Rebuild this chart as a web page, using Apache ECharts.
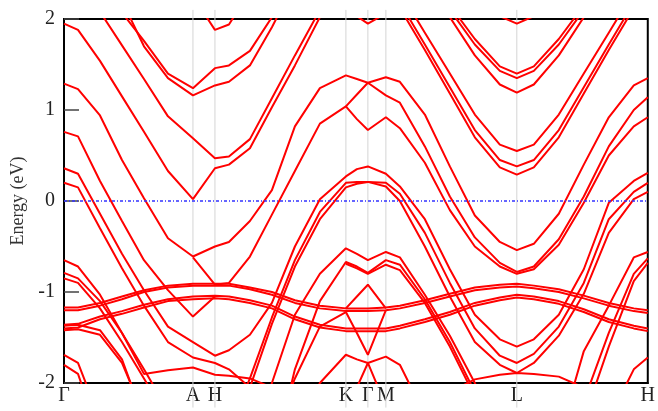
<!DOCTYPE html>
<html>
<head>
<meta charset="utf-8">
<script src="https://cdn.jsdelivr.net/npm/echarts@6/dist/echarts.min.js"></script>
<style>
html, body { margin: 0; padding: 0; background: #fff; }
#chart { width: 658px; height: 411px; }
</style>
</head>
<body>
<div id="chart"></div>
<script>
const _ = null;

// k-path positions (sample points along Γ-A-H-K-Γ-M-L-H)
const kGrid = [0, 14, 36, 58, 80, 104, 129, 151, 165, 186, 208, 231, 256, 282, 293, 304, 322, 336, 361, 386, 411, 436, 453, 470, 495, 520, 545, 570, 584];
const kTicks = [0, 129, 151, 282, 304, 322, 453, 584];
const kLabels = ['Γ', 'A', 'H', 'K', 'Γ', 'M', 'L', 'H'];
const kLines = [129, 151, 282, 304, 322, 453];

// band energies (eV) at each kGrid point
const band01 = [1.95, 1.88, 1.54, 1.15, 0.76, 0.33, 0.02, 0.36, 0.40, 0.58, 1.03, 1.49, 2.02, 2.6, _, _, _, _, _, _, _, _, _, _, _, _, _, _, _];
const band02 = [_, 2.45, 2.08, 1.71, 1.34, 0.93, 0.69, 0.47, 0.49, 0.68, 1.13, 1.6, 2.1, _, _, _, _, _, _, _, _, _, _, _, _, _, _, _, _];
const band03 = [_, _, 2.45, 2.07, 1.76, 1.40, 1.24, 1.46, 1.49, 1.65, 2.02, _, _, _, _, _, _, _, _, _, _, _, _, _, _, _, _, _, _];
const band04 = [_, _, 2.6, 2.2, 1.70, 1.35, 1.16, 1.27, 1.31, 1.49, 1.91, 2.4, _, _, _, _, _, _, _, _, _, _, _, _, _, _, _, _, _];
const band05 = [_, _, _, _, _, 2.6, 2.25, 1.88, 1.94, 2.3, _, _, _, _, _, _, _, _, _, _, _, _, _, _, _, _, _, _, _];
const band06 = [_, _, _, _, _, _, _, _, _, _, _, _, 2.5, 2.3, 2.03, 1.95, 2.06, 2.3, _, _, _, _, _, _, _, _, _, _, _];
const band07 = [_, _, _, _, _, _, _, _, _, _, _, _, _, _, _, _, _, _, _, _, 2.3, 2.03, 1.95, 2.03, 2.3, _, _, _, _];
const band08 = [1.29, 1.23, 0.94, 0.45, 0.03, -0.41, -0.61, -0.50, -0.45, -0.22, 0.12, 0.82, 1.24, 1.38, 1.34, 1.30, 1.36, 1.31, 0.95, 0.38, -0.16, -0.45, -0.54, -0.47, -0.14, 0.4, 0.92, 1.27, 1.35];
const band09 = [_, _, _, _, _, _, -0.62, -0.92, -0.9, -0.61, -0.15, 0.33, 0.85, 1.04, 1.17, 1.30, 1.16, 1.08, 0.6, 0.05, -0.4, -0.68, -0.78, -0.72, -0.42, 0.05, 0.6, 1.0, 1.14];
const band10 = [_, _, _, _, _, _, _, _, _, _, _, _, _, 1.04, 0.9, 0.78, 0.92, 0.8, 0.42, -0.1, -0.5, -0.72, -0.8, -0.75, -0.48, -0.02, 0.5, 0.82, 0.92];
const band11 = [0.76, 0.71, 0.22, -0.22, -0.65, -0.98, -1.27, -1.05, _, _, _, _, _, _, _, _, _, _, _, _, _, _, _, _, _, _, _, _, _];
const band12 = [0.36, 0.3, -0.14, -0.58, -0.98, -1.38, -1.55, -1.7, -1.64, -1.47, -1.12, -0.5, 0.02, 0.27, 0.35, 0.38, 0.3, 0.16, -0.2, -0.75, -1.25, -1.52, -1.6, -1.52, -1.25, -0.75, -0.02, 0.22, 0.31];
const band13 = [0.2, 0.15, -0.3, -0.74, -1.15, -1.55, -1.72, -1.78, -1.85, -2.05, -2.4, _, _, _, _, _, _, _, _, _, _, _, _, _, _, _, _, _, _];
const band14 = [_, _, _, _, _, _, _, _, -2.5, -1.95, -1.28, -0.65, -0.12, 0.2, 0.21, 0.21, 0.2, 0.08, -0.35, -0.9, -1.4, -1.7, -1.78, -1.68, -1.38, -0.9, -0.2, 0.1, 0.2];
const band15 = [_, _, _, _, _, _, _, _, -2.6, -2.05, -1.35, -0.72, -0.2, 0.15, 0.19, 0.21, 0.16, 0.0, -0.5, -1.05, -1.55, -1.8, -1.89, -1.78, -1.48, -1.02, -0.35, 0.02, 0.1];
const band16 = [-1.69, -1.78, -2.4, _, _, _, _, _, _, _, _, _, _, _, _, _, _, _, _, _, _, _, _, _, _, _, _, _, _];
const band17 = [-1.8, -1.9, -2.6, _, _, _, _, _, _, _, _, _, _, _, _, _, _, _, _, _, _, _, _, _, _, _, _, _, _];
const band18 = [-0.65, -0.72, -1.03, -1.45, -1.9, -1.86, -1.83, -1.91, -1.92, -1.95, -2.05, -2.4, _, _, _, _, _, _, _, _, _, _, _, _, _, _, _, _, _];
const band19 = [-0.79, -0.85, -1.1, -1.45, -1.85, -2.3, _, _, _, _, _, _, _, _, _, _, _, _, _, _, _, _, _, _, _, _, _, _, _];
const band20 = [-0.85, -0.9, -1.18, -1.55, -1.95, -2.4, _, _, _, _, _, _, _, _, _, _, _, _, _, _, _, _, _, _, _, _, _, _, _];
const band21 = [-1.37, -1.36, -1.42, -1.74, -2.4, _, _, _, _, _, _, _, _, _, _, _, _, _, _, _, _, _, _, _, _, _, _, _, _];
const band22 = [-1.42, -1.41, -1.47, -1.78, -2.35, _, _, _, _, _, _, _, _, _, _, _, _, _, _, _, _, _, _, _, _, _, _, _, _];
const band23 = [_, _, _, _, _, _, _, _, _, _, _, _, _, -1.18, -1.05, -0.92, -1.18, _, _, _, _, _, _, _, _, _, _, _, _];
const band24 = [_, _, _, _, _, _, _, _, _, _, -2.6, -1.95, -1.38, -1.22, -1.45, -1.69, -1.2, _, _, _, _, _, _, _, _, _, _, _, _];
const band25 = [_, _, _, _, _, _, _, _, _, _, _, -2.6, -2.0, -1.69, -1.74, -1.78, -1.71, -1.8, -2.35, _, _, _, _, _, _, _, _, _, _];
const band26 = [_, _, _, _, _, _, _, _, _, _, _, _, _, -2.5, -2.05, -1.78, -2.25, _, _, _, _, _, _, _, _, _, _, _, _];
const band27 = [_, _, _, _, _, _, _, _, _, -2.8, -2.0, -1.25, -0.8, -0.52, -0.58, -0.65, -0.56, -0.62, -1.03, -1.48, -2.0, -2.6, _, _, -2.6, -1.65, -1.15, -0.62, -0.56];
const band28 = [_, _, _, _, _, _, _, _, _, _, -2.9, -1.85, -1.1, -0.67, -0.72, -0.79, -0.65, -0.7, -1.08, -1.55, -2.1, -2.7, _, _, -2.8, -2.2, -1.45, -0.8, -0.63];
const band29 = [_, _, _, _, _, _, _, _, _, _, _, _, _, -0.69, -0.74, -0.8, -0.7, -0.76, -1.12, -1.6, -2.15, -2.8, _, _, -2.9, -2.4, -1.6, -0.88, -0.68];
const band30 = [_, _, _, _, _, _, _, _, _, _, _, _, _, _, _, _, _, _, _, -2.1, -1.96, -1.91, -1.89, -1.9, -1.93, -2.05, _, _, _];
const band31 = [_, _, _, _, _, _, _, _, _, _, _, _, _, _, _, _, _, _, _, _, _, _, _, _, _, -2.6, -2.4, -1.85, -1.72];
const band32 = [_, _, _, _, _, _, _, _, _, _, _, _, _, _, _, _, 2.6, 2.3, 1.85, 1.4, 0.95, 0.62, 0.55, 0.62, 0.95, 1.4, 1.85, 2.3, _];
const band33 = [_, _, _, _, _, _, _, _, _, _, _, _, _, _, _, _, 2.6, 2.18, 1.72, 1.25, 0.78, 0.45, 0.38, 0.45, 0.78, 1.25, 1.72, 2.18, _];
const band34 = [_, _, _, _, _, _, _, _, _, _, _, _, _, _, _, _, 2.6, 2.12, 1.66, 1.18, 0.7, 0.37, 0.29, 0.37, 0.7, 1.18, 1.66, 2.12, _];
const band35 = [_, _, _, _, _, _, _, _, _, _, _, _, _, _, _, _, _, _, 2.6, 2.15, 1.78, 1.48, 1.40, 1.48, 1.78, 2.15, 2.6, _, _];
const band36 = [_, _, _, _, _, _, _, _, _, _, _, _, _, _, _, _, _, _, 2.6, 2.1, 1.72, 1.43, 1.35, 1.43, 1.72, 2.1, 2.6, _, _];
const band37 = [_, _, _, _, _, _, _, _, _, _, _, _, _, _, _, _, _, _, 2.6, 2.02, 1.6, 1.28, 1.19, 1.28, 1.6, 2.02, 2.6, _, _];
// the two thick bundles near -1 eV
const bundleP1 = [-1.17, -1.17, -1.12, -1.05, -0.98, -0.93, -0.91, -0.91, -0.91, -0.95, -1.0, -1.09, -1.15, -1.18, -1.18, -1.18, -1.17, -1.15, -1.09, -1.02, -0.95, -0.92, -0.91, -0.93, -0.97, -1.04, -1.12, -1.18, -1.2];
const bundleP2 = [-1.2, -1.2, -1.15, -1.08, -1.0, -0.95, -0.93, -0.93, -0.93, -0.97, -1.03, -1.12, -1.18, -1.21, -1.21, -1.21, -1.2, -1.18, -1.12, -1.05, -0.98, -0.95, -0.94, -0.96, -1.0, -1.07, -1.15, -1.21, -1.23];
const bundleQ1 = [-1.36, -1.35, -1.27, -1.21, -1.14, -1.08, -1.05, -1.04, -1.05, -1.09, -1.15, -1.27, -1.36, -1.4, -1.4, -1.4, -1.4, -1.37, -1.3, -1.22, -1.12, -1.06, -1.03, -1.05, -1.1, -1.19, -1.3, -1.37, -1.4];
const bundleQ2 = [-1.4, -1.39, -1.3, -1.24, -1.17, -1.1, -1.08, -1.07, -1.08, -1.12, -1.18, -1.3, -1.39, -1.43, -1.43, -1.43, -1.43, -1.4, -1.33, -1.25, -1.15, -1.09, -1.06, -1.08, -1.13, -1.22, -1.33, -1.4, -1.43];

const bands = [band01, band02, band03, band04, band05, band06, band07, band08, band09, band10,
	band11, band12, band13, band14, band15, band16, band17, band18, band19, band20,
	band21, band22, band23, band24, band25, band26, band27, band28, band29, band30,
	band31, band32, band33, band34, band35, band36, band37,
	bundleP1, bundleP2, bundleQ1, bundleQ2];

const chart = echarts.init(document.getElementById('chart'));
const serif = '"Liberation Serif", "Times New Roman", serif';

let series = [];
// high-symmetry guide lines (run past the frame like the original)
kLines.forEach(function(k) {
	series.push({
		type: 'line',
		data: [[k, 2.1], [k, -2.27]],
		clip: false,
		symbol: 'none',
		silent: true,
		z: 1,
		lineStyle: { color: '#d4d4d4', width: 1 }
	});
});
bands.forEach(function(b) {
	series.push({
		type: 'line',
		data: kGrid.map(function(k, i) { return [k, b[i] === null ? '-' : b[i]]; }),
		symbol: 'none',
		silent: true,
		z: 3,
		lineStyle: { color: '#ff0000', width: 2 }
	});
});
// Fermi level
series.push({
	type: 'line',
	data: [[0, 0], [584, 0]],
	symbol: 'none',
	silent: true,
	z: 4,
	lineStyle: { color: '#3333ff', width: 1.3, type: [3, 2, 1, 2] }
});

let option = {
	animation: false,
	backgroundColor: '#ffffff',
	grid: {
		left: 64,
		right: 10,
		top: 19,
		bottom: 28,
		show: true,
		borderColor: '#000',
		borderWidth: 2
	},
	xAxis: {
		type: 'value',
		min: 0,
		max: 584,
		axisLine: { show: true, onZero: false, lineStyle: { color: '#000', width: 2 } },
		axisTick: { show: false },
		splitLine: { show: false },
		axisLabel: {
			customValues: kTicks,
			formatter: function(v) { return kLabels[kTicks.indexOf(v)]; },
			fontFamily: serif,
			fontSize: 20,
			color: '#222',
			margin: 3
		}
	},
	yAxis: {
		type: 'value',
		min: -2,
		max: 2,
		interval: 1,
		name: 'Energy (eV)',
		nameLocation: 'middle',
		nameGap: 36,
		nameTextStyle: { fontFamily: serif, fontSize: 18, color: '#333' },
		axisLine: { show: true, onZero: false, lineStyle: { color: '#000', width: 2 } },
		axisTick: { show: true, inside: true, length: 15, lineStyle: { color: '#444', width: 1.5 } },
		splitLine: { show: false },
		axisLabel: { fontFamily: serif, fontSize: 20, color: '#222', margin: 9 }
	},
	series: series
};
chart.setOption(option);
</script>
</body>
</html>
